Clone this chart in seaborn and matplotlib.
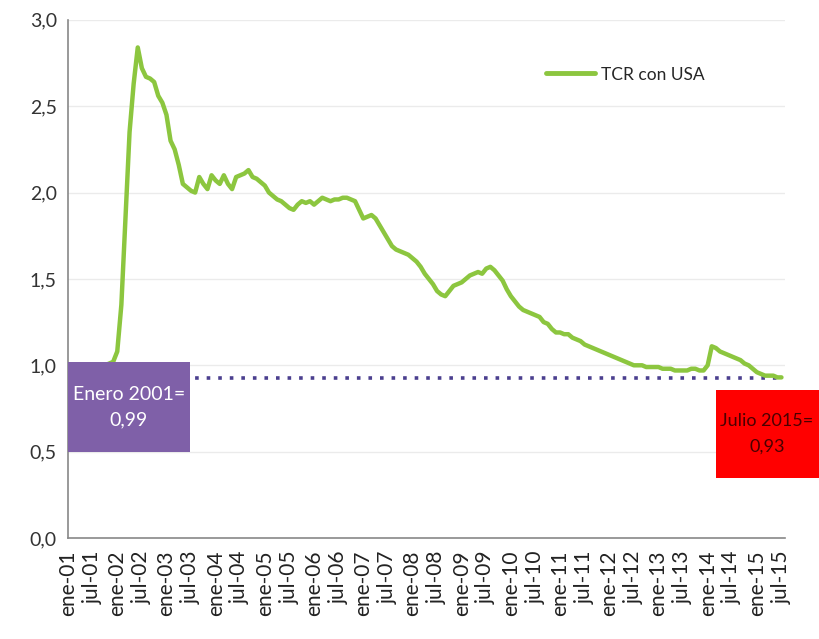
import matplotlib
matplotlib.use("Agg")
import matplotlib.pyplot as plt
import seaborn as sns
import pandas as pd
import numpy as np
from matplotlib.patches import Rectangle

# Monthly TCR con USA, ene-01 .. jul-15
tcr = [
    0.99, 0.99, 1.00, 0.99, 0.98, 0.99, 1.00, 1.00, 0.99, 1.00, 1.01, 1.02,
    1.08, 1.35, 1.85, 2.35, 2.63, 2.84, 2.72, 2.67, 2.66, 2.64, 2.56, 2.52,
    2.45, 2.30, 2.25, 2.16, 2.05, 2.03, 2.01, 2.00, 2.09, 2.05, 2.02, 2.10,
    2.07, 2.05, 2.10, 2.05, 2.02, 2.09, 2.10, 2.11, 2.13, 2.09, 2.08, 2.06,
    2.04, 2.00, 1.98, 1.96, 1.95, 1.93, 1.91, 1.90, 1.93, 1.95, 1.94, 1.95,
    1.93, 1.95, 1.97, 1.96, 1.95, 1.96, 1.96, 1.97, 1.97, 1.96, 1.95, 1.90,
    1.85, 1.86, 1.87, 1.85, 1.81, 1.77, 1.73, 1.69, 1.67, 1.66, 1.65, 1.64,
    1.62, 1.60, 1.57, 1.53, 1.50, 1.47, 1.43, 1.41, 1.40, 1.43, 1.46, 1.47,
    1.48, 1.50, 1.52, 1.53, 1.54, 1.53, 1.56, 1.57, 1.55, 1.52, 1.49, 1.44,
    1.40, 1.37, 1.34, 1.32, 1.31, 1.30, 1.29, 1.28, 1.25, 1.24, 1.21, 1.19,
    1.19, 1.18, 1.18, 1.16, 1.15, 1.14, 1.12, 1.11, 1.10, 1.09, 1.08, 1.07,
    1.06, 1.05, 1.04, 1.03, 1.02, 1.01, 1.00, 1.00, 1.00, 0.99, 0.99, 0.99,
    0.99, 0.98, 0.98, 0.98, 0.97, 0.97, 0.97, 0.97, 0.98, 0.98, 0.97, 0.97,
    1.00, 1.11, 1.10, 1.08, 1.07, 1.06, 1.05, 1.04, 1.03, 1.01, 1.00, 0.98,
    0.96, 0.95, 0.94, 0.94, 0.94, 0.93, 0.93,
]
month_abbr = ["ene", "feb", "mar", "abr", "may", "jun",
              "jul", "ago", "sep", "oct", "nov", "dic"]
labels = [f"{month_abbr[i % 12]}-{str(2001 + i // 12)[2:]}" for i in range(len(tcr))]
tick_labels = labels[::6]
ref_value = 0.925
box_left_text = "Enero 2001=\n0,99"
box_right_text = "Julio 2015=\n0,93"
series_name = "TCR con USA"

df = pd.DataFrame({"idx": np.arange(len(tcr)), "valor": tcr, "serie": series_name})

sns.set_style("white")
plt.rcParams["font.family"] = ["Lato", "DejaVu Sans"]

fig = plt.figure(figsize=(8.2, 6.39), dpi=100)
ax = fig.add_axes([0.083, 0.158, 0.874, 0.811])

ax.hlines(ref_value, 0, len(tcr) - 1, colors="#4B3F8F", linestyles=(0, (1, 2.2)),
          linewidth=2.6, zorder=2)
sns.lineplot(data=df, x="idx", y="valor", hue="serie", palette=["#8CC63F"],
             linewidth=3.2, ax=ax, zorder=3)

ax.set_xlim(0, len(tcr) - 0.2)
ax.set_ylim(0, 3.0)
ax.set_yticks(np.arange(0, 3.01, 0.5))
ax.set_yticklabels([f"{v:.1f}".replace(".", ",") for v in np.arange(0, 3.01, 0.5)],
                   fontsize=14, color="#333333")
ax.set_xticks(np.arange(0, len(tcr), 6))
ax.set_xticklabels(tick_labels, rotation=90, fontsize=15, color="#222222")
ax.set_xlabel("")
ax.set_ylabel("")
ax.grid(axis="y", color="#EBEBEB", linewidth=1)
ax.tick_params(axis="both", direction="out", length=5, width=1, color="#888888",
               pad=3)
ax.tick_params(axis="x", length=6)
for s in ["top", "right"]:
    ax.spines[s].set_visible(False)
for s in ["left", "bottom"]:
    ax.spines[s].set_color("#888888")
    ax.spines[s].set_linewidth(1.2)

leg = ax.legend(loc="upper left", bbox_to_anchor=(0.645, 0.94), frameon=False,
                fontsize=12.5, handlelength=2.8, handletextpad=0.4)
for line in leg.get_lines():
    line.set_linewidth(3.5)

# annotation boxes (figure coordinates)
fig.patches.append(Rectangle((68 / 820, 1 - 452 / 639), 122 / 820, 90 / 639,
                             transform=fig.transFigure, facecolor="#7F60A8",
                             edgecolor="none", zorder=5))
fig.text(129 / 820, 1 - 407 / 639, box_left_text, ha="center", va="center",
         color="white", fontsize=14, linespacing=1.6, zorder=6)
fig.patches.append(Rectangle((716 / 820, 1 - 478 / 639), 104 / 820, 88 / 639,
                             transform=fig.transFigure, facecolor="#FF0000",
                             edgecolor="none", zorder=5))
fig.text(767 / 820, 1 - 434 / 639, box_right_text, ha="center", va="center",
         color="#4A0000", fontsize=13, linespacing=1.7, zorder=6)

fig.savefig("out.png", dpi=100)
